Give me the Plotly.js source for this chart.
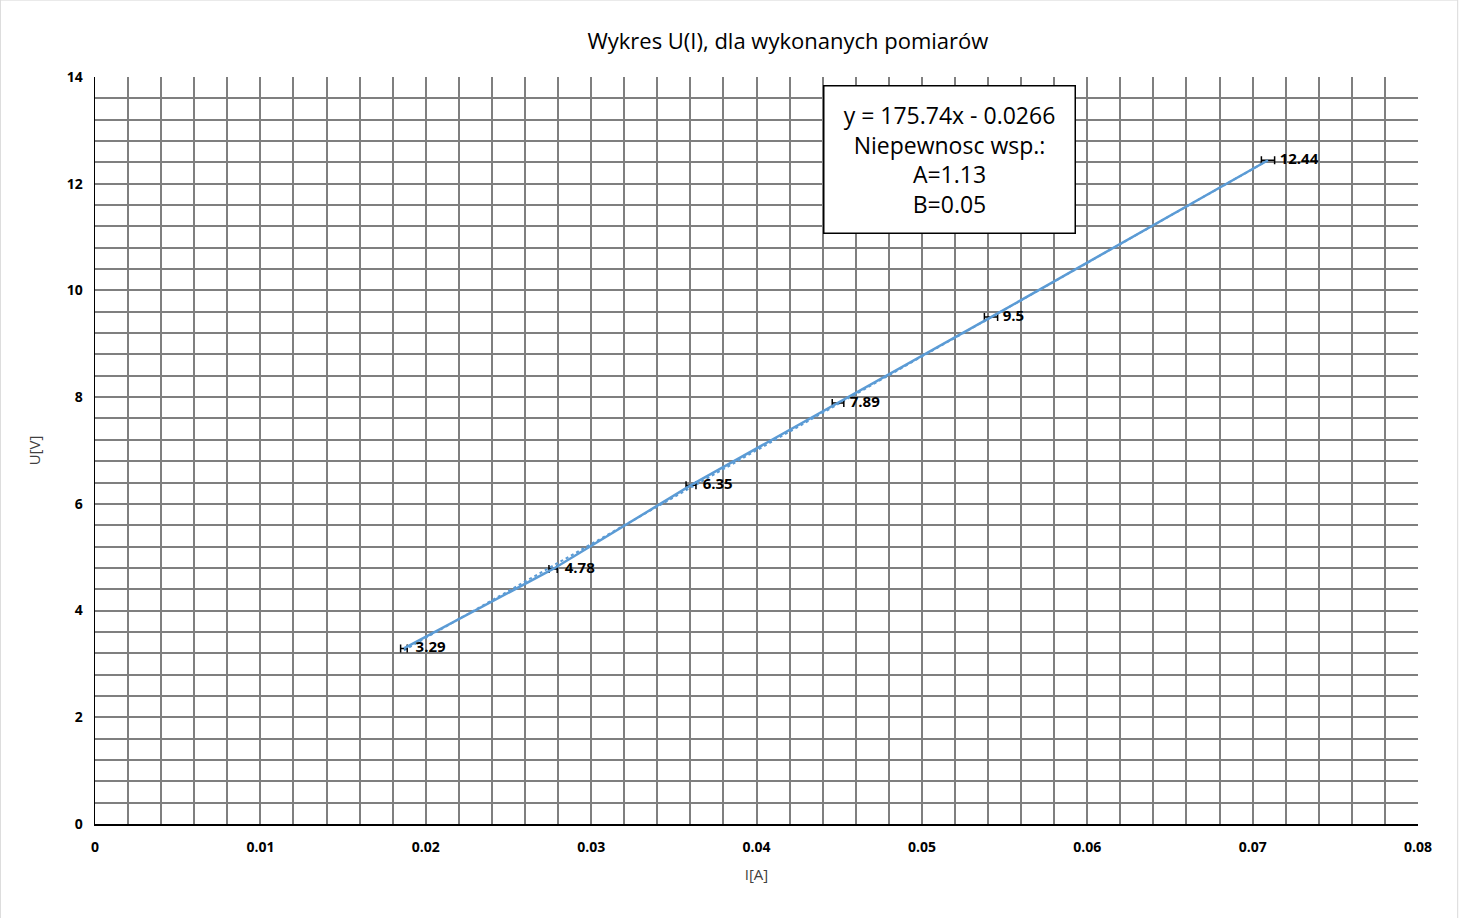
<!DOCTYPE html>
<html>
<head>
<meta charset="utf-8">
<script src="https://cdn.plot.ly/plotly-3.0.1.min.js"></script>
<style>
body { margin: 0; background: #fff; }
#chart { width: 1459px; height: 918px; }
</style>
</head>
<body>
<div id="chart"></div>
<script>
// pomiary
var prad = [0.01868, 0.0277, 0.03604, 0.04493, 0.05418, 0.07093];
var napiecie = [3.29, 4.78, 6.35, 7.89, 9.5, 12.44];
var bladI = [0.0002, 0.00025, 0.0003, 0.00035, 0.0004, 0.0004];
var etykiety = ["3.29", "4.78", "6.35", "7.89", "9.5", "12.44"];
var wspA = 175.74;
var wspB = -0.0266;

var trendX = [prad[0], prad[prad.length - 1]];
var trendY = trendX.map(function (x) { return wspA * x + wspB; });

var czcionka = "Open Sans, Liberation Sans, Arial";

var pomiary = {
    x: prad,
    y: napiecie,
    mode: "lines+text",
    type: "scatter",
    text: etykiety,
    textposition: "middle right",
    texttemplate: "   %{text}",
    textfont: {family: czcionka, size: 15, color: "#000", weight: "bold"},
    line: {color: "#5b9bd5", width: 2.5},
    error_x: {type: "data", array: bladI, visible: true, color: "#000", thickness: 1.5, width: 4},
    hoverinfo: "x+y"
};

var trend = {
    x: trendX,
    y: trendY,
    mode: "lines",
    type: "scatter",
    line: {color: "#5b9bd5", width: 2, dash: "dot"},
    hoverinfo: "skip"
};

var layout = {
    width: 1459,
    height: 918,
    showlegend: false,
    paper_bgcolor: "#fff",
    plot_bgcolor: "#fff",
    font: {family: czcionka, color: "#404040"},
    margin: {l: 95, r: 41, t: 77, b: 94},
    title: {text: "Wykres U(I), dla wykonanych pomiarów", font: {size: 22, color: "#000"}, x: 0.54, xanchor: "center", y: 0.955, yanchor: "middle"},
    xaxis: {
        range: [0, 0.08],
        dtick: 0.01,
        tickformat: "~g",
        title: {text: "I[A]", font: {size: 15, color: "#404040"}, standoff: 14},
        tickfont: {size: 14, color: "#000", weight: "bold"},
        ticks: "outside", ticklen: 0,
        ticklabelstandoff: 10,
        showgrid: true,
        gridcolor: "#7f7f7f",
        gridwidth: 2,
        minor: {dtick: 0.002, showgrid: true, gridcolor: "#7f7f7f", gridwidth: 2},
        zeroline: false,
        showline: true,
        linecolor: "#000",
        linewidth: 1.5
    },
    yaxis: {
        range: [0, 14],
        dtick: 2,
        title: {text: "U[V]", font: {size: 15, color: "#404040"}, standoff: 22},
        tickfont: {size: 14, color: "#000", weight: "bold"},
        ticklabelstandoff: 8,
        showgrid: true,
        gridcolor: "#7f7f7f",
        gridwidth: 2,
        minor: {dtick: 0.4, showgrid: true, gridcolor: "#7f7f7f", gridwidth: 2},
        zeroline: false,
        showline: true,
        linecolor: "#000",
        linewidth: 1.5
    },
    shapes: [{
        type: "rect", xref: "paper", yref: "paper",
        x0: -0.0715, x1: 1.03, y0: -0.127, y1: 1.103,
        line: {color: "#d9d9d9", width: 1}
    }],
    annotations: [{
        xref: "paper", yref: "paper",
        x: 0.646, y: 0.79, xanchor: "center", yanchor: "bottom",
        text: "y = 175.74x - 0.0266<br>Niepewnosc wsp.:<br>A=1.13<br>B=0.05",
        showarrow: false,
        align: "center",
        font: {size: 23, color: "#000"},
        bgcolor: "#fff",
        bordercolor: "#000",
        borderwidth: 1.5,
        width: 248,
        height: 144
    }]
};

Plotly.newPlot("chart", [trend, pomiary], layout, {staticPlot: true});
</script>
</body>
</html>
